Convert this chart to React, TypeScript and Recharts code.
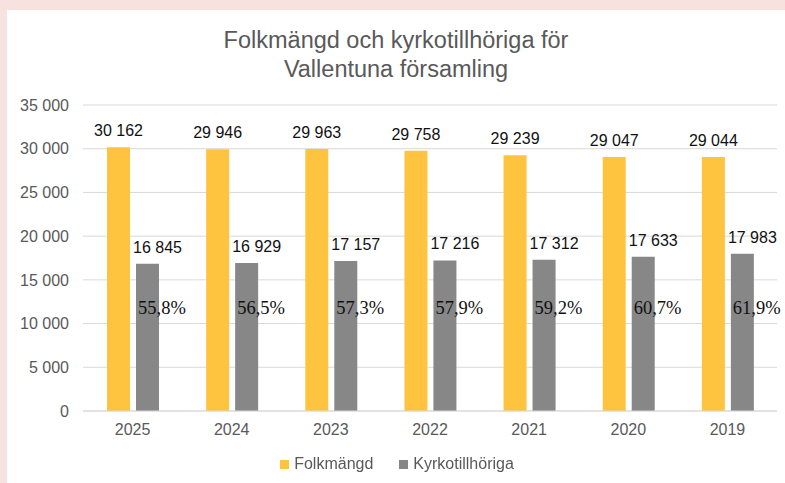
import { BarChart, Bar, XAxis, YAxis, CartesianGrid, Legend, LabelList } from 'recharts'

const years = ['2025', '2024', '2023', '2022', '2021', '2020', '2019']
const folkmangd = [30162, 29946, 29963, 29758, 29239, 29047, 29044]
const kyrkotillhoriga = [16845, 16929, 17157, 17216, 17312, 17633, 17983]
const andel = ['55,8%', '56,5%', '57,3%', '57,9%', '59,2%', '60,7%', '61,9%']
const yTicks = [0, 5000, 10000, 15000, 20000, 25000, 30000, 35000]

const data = years.map((year, i) => ({
  year,
  folk: folkmangd[i],
  kyrko: kyrkotillhoriga[i],
  pct: andel[i],
}))

const FONT = '"Liberation Sans", Arial, sans-serif'
const SERIF = '"Liberation Serif", "Times New Roman", serif'
const GREY_TEXT = '#595959'
const YELLOW = '#FFC43F'
const GREY = '#878787'

const fmt = (v: number) => String(v).replace(/\B(?=(\d{3})+(?!\d))/g, ' ')

// value above bar, no wrapping
function ValueLabel(props: any) {
  const { x, y, width, value, shift = 0 } = props
  return (
    <text x={Number(x) + Number(width) / 2 + shift} y={Number(y) - 11} textAnchor="middle" style={{ fontFamily: FONT, fontSize: 16, fill: '#111' }}>
      {fmt(Number(value))}
    </text>
  )
}

function PctLabel(props: any) {
  const { x, y, height, index } = props
  return (
    <text x={Number(x) + 2} y={Number(y) + Number(height) - 97} style={{ fontFamily: SERIF, fontSize: 18.5, fill: '#111' }}>
      {data[index].pct}
    </text>
  )
}

function LegendContent() {
  const items = [
    { name: 'Folkmängd', color: YELLOW },
    { name: 'Kyrkotillhöriga', color: GREY },
  ]
  return (
    <div style={{ display: 'flex', justifyContent: 'center', gap: 26, fontFamily: FONT, fontSize: 16, lineHeight: '18px', color: GREY_TEXT, paddingLeft: 2 }}>
      {items.map((it) => (
        <span key={it.name} style={{ display: 'flex', alignItems: 'center', gap: 5 }}>
          <span style={{ width: 9, height: 9, background: it.color, display: 'inline-block' }} />
          {it.name}
        </span>
      ))}
    </div>
  )
}

export default function App() {
  return (
    <div style={{ position: 'fixed', left: 0, top: 0, width: 785, height: 483, background: '#F8E2DF' }}>
      <div style={{ position: 'absolute', left: 7, top: 10, width: 778, height: 473, background: '#fff' }}>
        <div style={{ position: 'absolute', left: 0, top: 16, width: 778, textAlign: 'center', fontFamily: FONT, fontSize: 23.5, lineHeight: '29px', color: GREY_TEXT }}>
          Folkmängd och kyrkotillhöriga för
          <br />
          Vallentuna församling
        </div>
        <BarChart width={778} height={473} data={data} margin={{ top: 95, right: 8, bottom: 0, left: 0 }} barSize={23} barGap={6}>
          <CartesianGrid vertical={false} stroke="#D9D9D9" />
          <XAxis
            dataKey="year"
            axisLine={{ stroke: '#D9D9D9' }}
            tickLine={false}
            tickSize={6}
            tickMargin={7}
            height={36}
            tick={{ fontFamily: FONT, fontSize: 16, fill: GREY_TEXT }}
          />
          <YAxis
            domain={[0, 35000]}
            ticks={yTicks}
            width={76}
            axisLine={false}
            tickLine={false}
            tickSize={6}
            tickMargin={8}
            tickFormatter={(v: number) => fmt(v)}
            tick={{ fontFamily: FONT, fontSize: 16, fill: GREY_TEXT }}
          />
          <Legend verticalAlign="bottom" height={36} content={<LegendContent />} wrapperStyle={{ top: 445, bottom: 'auto', left: 0, width: 778 }} />
          <Bar dataKey="folk" name="Folkmängd" fill={YELLOW} isAnimationActive={false}>
            <LabelList dataKey="folk" content={<ValueLabel />} />
          </Bar>
          <Bar dataKey="kyrko" name="Kyrkotillhöriga" fill={GREY} isAnimationActive={false}>
            <LabelList dataKey="kyrko" content={<ValueLabel shift={10} />} />
            <LabelList dataKey="pct" content={<PctLabel />} />
          </Bar>
        </BarChart>
      </div>
    </div>
  )
}
